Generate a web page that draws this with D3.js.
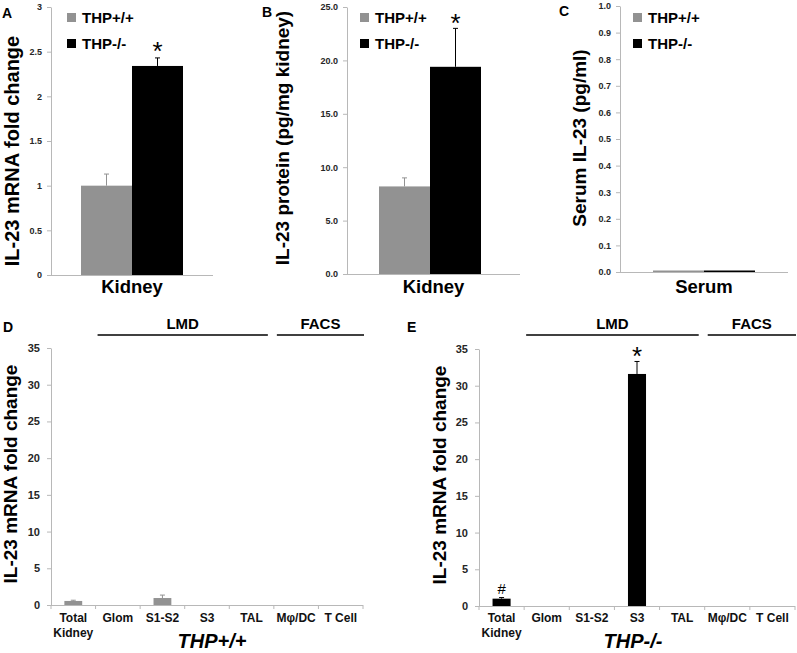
<!DOCTYPE html>
<html><head><meta charset="utf-8">
<script src="https://cdn.jsdelivr.net/npm/d3@7/dist/d3.min.js"></script>
<style>body{margin:0;background:#fff}svg{display:block}text{font-family:"Liberation Sans",Arial,sans-serif;font-weight:bold}</style>
</head><body>
<script>
// ---- data ----
const groups = ["THP+/+", "THP-/-"];
const groupColors = ["#929292", "#000000"];

const aValues = [1.00, 2.34];
const aErrors = [0.13, 0.09];
const aTicks = [0, 0.5, 1, 1.5, 2, 2.5, 3];

const bValues = [8.2, 19.4];
const bErrors = [0.8, 3.6];
const bTicks = [0, 5, 10, 15, 20, 25];

const cValues = [0.004, 0.005];
const cErrors = [0, 0];
const cTicks = [0, 0.1, 0.2, 0.3, 0.4, 0.5, 0.6, 0.7, 0.8, 0.9, 1.0];

const cellTypes = ["Total Kidney", "Glom", "S1-S2", "S3", "TAL", "Mφ/DC", "T Cell"];
const dValues = [0.55, 0, 0.95, 0, 0, 0, 0];
const dErrors = [0.1, 0, 0.4, 0, 0, 0, 0];
const eValues = [1.0, 0, 0, 31.6, 0, 0, 0];
const eErrors = [0.15, 0, 0, 1.7, 0, 0, 0];
const deTicks = [0, 5, 10, 15, 20, 25, 30, 35];

const svg = d3.select("body").append("svg").attr("width", 797).attr("height", 653);
const axisColor = "#b8b8b8";

function errBar(g, x, y0, y1, color) {
  g.append("line").attr("x1", x).attr("x2", x).attr("y1", y0).attr("y2", y1).attr("stroke", color).attr("stroke-width", 1);
  g.append("line").attr("x1", x - 2.5).attr("x2", x + 2.5).attr("y1", y1).attr("y2", y1).attr("stroke", color).attr("stroke-width", 1);
}

function styleAxis(ax, fs) {
  ax.selectAll("path,line").attr("stroke", axisColor);
  ax.selectAll("text").attr("fill", "#262626").style("font-size", fs + "px").style("font-weight", "bold");
}

// ---- top panels ----
function topPanel(o) {
  const g = svg.append("g");
  const y = d3.scaleLinear().domain([0, o.ticks[o.ticks.length - 1]]).range([o.y0, o.y1]);
  const x = d3.scaleBand().domain(groups).range([o.bx0, o.bx1]).padding(0);
  const ay = g.append("g").attr("transform", `translate(${o.ax},0)`)
    .call(d3.axisLeft(y).tickValues(o.ticks).tickFormat(o.fmt).tickSize(4).tickSizeOuter(0).tickPadding(5));
  styleAxis(ay, 9);
  g.append("line").attr("x1", o.ax).attr("x2", o.axEnd).attr("y1", o.y0 + 0.5).attr("y2", o.y0 + 0.5).attr("stroke", axisColor);
  groups.forEach((k, i) => {
    const v = o.values[i];
    const h = Math.max(1.5, o.y0 - y(v));
    g.append("rect").attr("x", x(k)).attr("width", x.bandwidth()).attr("y", o.y0 - h).attr("height", h).attr("fill", groupColors[i]);
    if (o.errors[i] > 0) errBar(g, x(k) + x.bandwidth() / 2, y(v), y(v + o.errors[i]), groupColors[i]);
  });
  if (o.star) g.append("text").attr("x", x(groups[1]) + x.bandwidth() / 2).attr("y", y(o.values[1] + o.errors[1]) + o.starOff).attr("text-anchor", "middle").style("font-size", "26px").style("font-weight", "normal").text("*");
  groups.forEach((k, i) => {
    const ly = 13 + i * 26;
    g.append("rect").attr("x", o.lx).attr("y", ly).attr("width", 9).attr("height", 9).attr("fill", groupColors[i]);
    g.append("text").attr("x", o.lx + 15).attr("y", ly + 10).style("font-size", "15px").text(k);
  });
  g.append("text").attr("x", (o.ax + o.axEnd) / 2).attr("y", 293).attr("text-anchor", "middle").style("font-size", "18.5px").text(o.xlabel);
  g.append("text").attr("transform", `translate(${o.ylx},${o.yly}) rotate(-90)`).attr("text-anchor", "middle").style("font-size", o.yfs + "px").text(o.ylabel);
  g.append("text").attr("x", o.px).attr("y", o.py).style("font-size", "14px").text(o.letter);
}

topPanel({letter: "A", px: 2, py: 18, ax: 51, axEnd: 213, bx0: 81, bx1: 183, y0: 275, y1: 7, ticks: aTicks, fmt: d3.format(""),
  values: aValues, errors: aErrors, star: true, starOff: 2, lx: 67, xlabel: "Kidney", ylabel: "IL-23 mRNA fold change", ylx: 19, yly: 151, yfs: 20});
topPanel({letter: "B", px: 262, py: 17, ax: 347, axEnd: 520, bx0: 379, bx1: 481, y0: 274, y1: 7, ticks: bTicks, fmt: d3.format(".1f"),
  values: bValues, errors: bErrors, star: true, starOff: 4, lx: 360, xlabel: "Kidney", ylabel: "IL-23 protein (pg/mg kidney)", ylx: 289, yly: 138, yfs: 19});
topPanel({letter: "C", px: 559, py: 16, ax: 620, axEnd: 788, bx0: 653, bx1: 755, y0: 272, y1: 6, ticks: cTicks, fmt: d3.format(".1f"),
  values: cValues, errors: cErrors, star: false, lx: 633, xlabel: "Serum", ylabel: "Serum IL-23 (pg/ml)", ylx: 586, yly: 138, yfs: 19});

// ---- bottom panels ----
function bottomPanel(o) {
  const g = svg.append("g");
  const y = d3.scaleLinear().domain([0, 35]).range([o.y0, o.y1]);
  const x = d3.scaleBand().domain(cellTypes).range([o.ax, o.axEnd]).padding(0);
  const ay = g.append("g").attr("transform", `translate(${o.ax},0)`)
    .call(d3.axisLeft(y).tickValues(deTicks).tickSize(4).tickSizeOuter(0).tickPadding(7));
  styleAxis(ay, 11);
  g.append("line").attr("x1", o.ax).attr("x2", o.axEnd).attr("y1", o.y0 + 0.5).attr("y2", o.y0 + 0.5).attr("stroke", axisColor);
  const bounds = cellTypes.map(c => x(c)).concat([o.axEnd]);
  bounds.forEach(b => g.append("line").attr("x1", b).attr("x2", b).attr("y1", o.y0).attr("y2", o.y0 + 4).attr("stroke", axisColor));
  cellTypes.forEach(c => {
    const cx = x(c) + x.bandwidth() / 2;
    const t = g.append("text").attr("x", cx).attr("y", 622).attr("text-anchor", "middle").style("font-size", "12px").attr("fill", "#111");
    if (c === "Total Kidney") {
      const parts = c.split(" ");
      t.append("tspan").attr("x", cx).text(parts[0]);
      t.append("tspan").attr("x", cx).attr("dy", 15).text(parts[1]);
    } else t.text(c);
  });
  const bw = x.bandwidth() * 0.4;
  cellTypes.forEach((c, i) => {
    const v = o.values[i];
    if (v <= 0) return;
    const cx = x(c) + x.bandwidth() / 2;
    g.append("rect").attr("x", cx - bw / 2).attr("width", bw).attr("y", y(v)).attr("height", o.y0 - y(v)).attr("fill", o.color);
    if (o.errors[i] > 0) errBar(g, cx, y(v), y(v + o.errors[i]), o.color);
  });
  o.marks.forEach(m => {
    const i = cellTypes.indexOf(m.cat);
    g.append("text").attr("x", x(m.cat) + x.bandwidth() / 2).attr("y", y(o.values[i] + o.errors[i]) + m.off)
      .attr("text-anchor", "middle").style("font-size", m.fs + "px").style("font-weight", "normal").text(m.sym);
  });
  const lmd0 = x("Glom") + 2, lmd1 = x("Mφ/DC") - 6, f0 = x("Mφ/DC") + 3, f1 = o.axEnd + 1;
  [[lmd0, lmd1, "LMD"], [f0, f1, "FACS"]].forEach(([a, b, lab]) => {
    g.append("line").attr("x1", a).attr("x2", b).attr("y1", 335).attr("y2", 335).attr("stroke", "#000").attr("stroke-width", 1.5);
    g.append("text").attr("x", (a + b) / 2).attr("y", 329).attr("text-anchor", "middle").style("font-size", "15px").text(lab);
  });
  g.append("text").attr("x", o.titleX).attr("y", 648).attr("text-anchor", "middle").style("font-size", "20px").style("font-style", "italic").text(o.title);
  g.append("text").attr("transform", `translate(${o.ylx},${o.yly}) rotate(-90)`).attr("text-anchor", "middle").style("font-size", "19px").text("IL-23 mRNA fold change");
  g.append("text").attr("x", o.px).attr("y", 332).style("font-size", "14px").text(o.letter);
}

bottomPanel({letter: "D", px: 3, ax: 51, axEnd: 363, y0: 605, y1: 348, values: dValues, errors: dErrors, color: "#929292",
  marks: [], title: "THP+/+", titleX: 212, ylx: 17, yly: 474});
bottomPanel({letter: "E", px: 407, ax: 479, axEnd: 795, y0: 606, y1: 349, values: eValues, errors: eErrors, color: "#000000",
  marks: [{cat: "Total Kidney", sym: "#", off: -4, fs: 15}, {cat: "S3", sym: "*", off: 4, fs: 26}], title: "THP-/-", titleX: 633, ylx: 446, yly: 475});
</script>
</body></html>
